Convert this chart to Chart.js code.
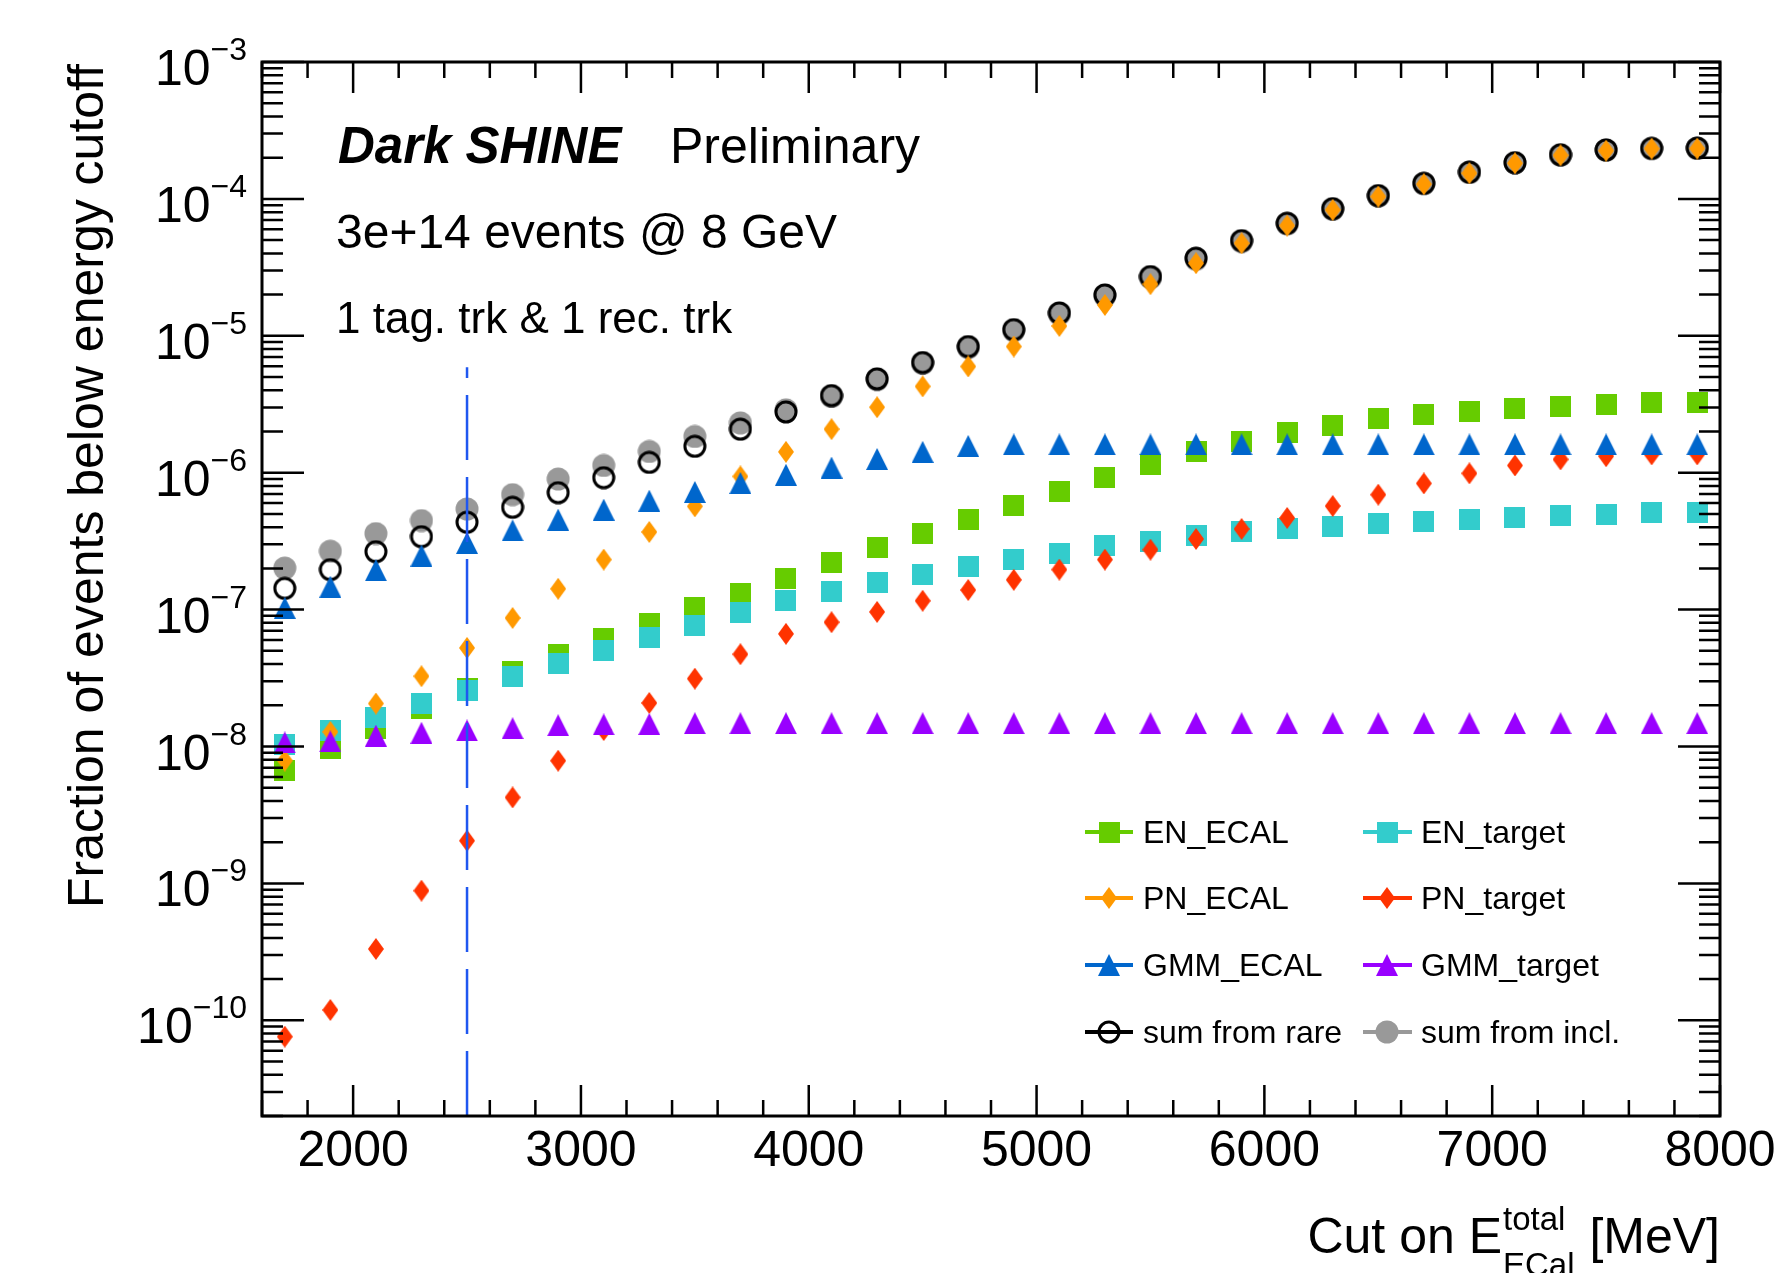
<!DOCTYPE html>
<html>
<head>
<meta charset="utf-8">
<script src="https://cdn.jsdelivr.net/npm/chart.js@4.4.0/dist/chart.umd.min.js"></script>
<style>
  html, body { margin: 0; padding: 0; background: #ffffff; }
  #wrap { width: 1777px; height: 1273px; }
</style>
</head>
<body>
<div id="wrap"><canvas id="c" width="1777" height="1273"></canvas></div>
<script>
// ---------------- DATA ----------------
const cutEnergies = [1700,1900,2100,2300,2500,2700,2900,3100,3300,3500,3700,3900,4100,4300,4500,4700,
                     4900,5100,5300,5500,5700,5900,6100,6300,6500,6700,6900,7100,7300,7500,7700,7900];

const enEcal = [6.7e-9,9.6e-9,1.36e-8,1.91e-8,2.64e-8,3.51e-8,4.67e-8,6.1e-8,7.94e-8,1.03e-7,1.32e-7,1.70e-7,2.19e-7,2.82e-7,3.57e-7,4.56e-7,
                5.77e-7,7.35e-7,9.29e-7,1.14e-6,1.42e-6,1.70e-6,1.98e-6,2.23e-6,2.47e-6,2.64e-6,2.82e-6,2.96e-6,3.07e-6,3.17e-6,3.23e-6,3.23e-6];

const enTarget = [1.03e-8,1.32e-8,1.64e-8,2.05e-8,2.56e-8,3.23e-8,4.04e-8,4.99e-8,6.21e-8,7.6e-8,9.45e-8,1.16e-7,1.35e-7,1.57e-7,1.79e-7,2.05e-7,
                  2.34e-7,2.59e-7,2.92e-7,3.17e-7,3.45e-7,3.69e-7,3.88e-7,4.08e-7,4.22e-7,4.37e-7,4.52e-7,4.67e-7,4.83e-7,4.91e-7,5.08e-7,5.08e-7];

const pnEcal = [7.9e-9,1.28e-8,2.06e-8,3.26e-8,5.25e-8,8.69e-8,1.42e-7,2.32e-7,3.69e-7,5.68e-7,9.4e-7,1.42e-6,2.08e-6,3.01e-6,4.27e-6,5.97e-6,
                8.35e-6,1.18e-5,1.68e-5,2.38e-5,3.39e-5,4.74e-5,6.38e-5,8.31e-5,1.04e-4,1.28e-4,1.54e-4,1.82e-4,2.08e-4,2.25e-4,2.33e-4,2.33e-4];

const pnTarget = [7.6e-11,1.19e-10,3.32e-10,8.85e-10,2.05e-9,4.25e-9,7.87e-9,1.32e-8,2.08e-8,3.13e-8,4.72e-8,6.65e-8,8.09e-8,9.62e-8,1.16e-7,1.39e-7,
                  1.65e-7,1.96e-7,2.32e-7,2.74e-7,3.28e-7,3.88e-7,4.67e-7,5.71e-7,6.91e-7,8.35e-7,9.89e-7,1.13e-6,1.25e-6,1.32e-6,1.36e-6,1.36e-6];

const gmmEcal = [1.03e-7,1.47e-7,1.94e-7,2.48e-7,3.07e-7,3.79e-7,4.54e-7,5.37e-7,6.25e-7,7.23e-7,8.41e-7,9.66e-7,1.09e-6,1.26e-6,1.42e-6,1.57e-6,
                 1.61e-6,1.61e-6,1.61e-6,1.61e-6,1.61e-6,1.61e-6,1.61e-6,1.61e-6,1.61e-6,1.61e-6,1.61e-6,1.61e-6,1.61e-6,1.61e-6,1.61e-6,1.61e-6];

const gmmTarget = [1.07e-8,1.09e-8,1.2e-8,1.26e-8,1.31e-8,1.36e-8,1.43e-8,1.45e-8,1.46e-8,1.48e-8,1.48e-8,1.48e-8,1.48e-8,1.48e-8,1.48e-8,1.48e-8,
                   1.48e-8,1.48e-8,1.48e-8,1.48e-8,1.48e-8,1.48e-8,1.48e-8,1.48e-8,1.48e-8,1.48e-8,1.48e-8,1.48e-8,1.48e-8,1.48e-8,1.48e-8,1.48e-8];

const sumRare = [1.43e-7,1.96e-7,2.65e-7,3.41e-7,4.35e-7,5.59e-7,7.15e-7,9.2e-7,1.19e-6,1.56e-6,2.08e-6,2.78e-6,3.66e-6,4.85e-6,6.38e-6,8.35e-6,
                 1.11e-5,1.47e-5,1.99e-5,2.71e-5,3.69e-5,4.96e-5,6.64e-5,8.49e-5,1.057e-4,1.30e-4,1.57e-4,1.84e-4,2.10e-4,2.28e-4,2.34e-4,2.35e-4];

const sumIncl = [2.01e-7,2.67e-7,3.59e-7,4.47e-7,5.43e-7,6.91e-7,8.99e-7,1.13e-6,1.43e-6,1.84e-6,2.31e-6,2.88e-6,3.61e-6,4.78e-6,6.3e-6,8.2e-6,
                 1.09e-5,1.44e-5,1.95e-5,2.66e-5,3.62e-5,4.88e-5,6.55e-5,8.4e-5,1.05e-4,1.29e-4,1.56e-4,1.83e-4,2.09e-4,2.27e-4,2.33e-4,2.34e-4];

const seriesLabels = ['EN_ECAL','EN_target','PN_ECAL','PN_target','GMM_ECAL','GMM_target','sum from rare','sum from incl.'];

const xTickLabels = ['2000','3000','4000','5000','6000','7000','8000'];
const yDecadeExponents = [-3,-4,-5,-6,-7,-8,-9,-10];

const cutLineValue = 2500;
const cutLineTop = 5.9e-6;

// ---------------- STYLE ----------------
const FONT = '"Liberation Sans", Arial, Helvetica, sans-serif';
const COL = {
  enEcal: '#66cc00', enTarget: '#33cccc', pnEcal: '#ff9900', pnTarget: '#ff3300',
  gmmEcal: '#0066cc', gmmTarget: '#9900ff', rare: '#000000', incl: '#999999'
};

function mk(w, h, draw) {
  const cv = document.createElement('canvas');
  cv.width = w; cv.height = h;
  draw(cv.getContext('2d'), w, h);
  return cv;
}
const square = c => mk(21, 21, (g, w, h) => { g.fillStyle = c; g.fillRect(0, 0, w, h); });
const diamond = c => mk(16, 22, (g, w, h) => {
  g.fillStyle = c; g.beginPath();
  g.moveTo(w / 2, 0); g.lineTo(w, h / 2); g.lineTo(w / 2, h); g.lineTo(0, h / 2);
  g.closePath(); g.fill();
});
const triangle = c => mk(22, 22, (g, w, h) => {
  g.fillStyle = c; g.beginPath();
  g.moveTo(w / 2, 0); g.lineTo(w, h); g.lineTo(0, h);
  g.closePath(); g.fill();
});
const openCircle = c => mk(24, 24, (g) => {
  g.strokeStyle = c; g.lineWidth = 3; g.beginPath(); g.arc(12, 12, 10, 0, 2 * Math.PI); g.stroke();
});
const fullCircle = c => mk(24, 24, (g) => {
  g.fillStyle = c; g.beginPath(); g.arc(12, 12, 11.5, 0, 2 * Math.PI); g.fill();
});

const toPts = arr => cutEnergies.map((x, i) => ({ x: x, y: arr[i] }));

function ds(label, arr, color, marker, order) {
  return { label, data: toPts(arr), pointStyle: marker, pointRadius: 10, borderColor: color,
           backgroundColor: color, showLine: false, order };
}

const datasets = [
  ds(seriesLabels[0], enEcal,    COL.enEcal,    square(COL.enEcal), 5),
  ds(seriesLabels[1], enTarget,  COL.enTarget,  square(COL.enTarget), 4),
  ds(seriesLabels[2], pnEcal,    COL.pnEcal,    diamond(COL.pnEcal), 3),
  ds(seriesLabels[3], pnTarget,  COL.pnTarget,  diamond(COL.pnTarget), 2),
  ds(seriesLabels[4], gmmEcal,   COL.gmmEcal,   triangle(COL.gmmEcal), 1),
  ds(seriesLabels[5], gmmTarget, COL.gmmTarget, triangle(COL.gmmTarget), 0),
  ds(seriesLabels[6], sumRare,   COL.rare,      openCircle(COL.rare), 6),
  ds(seriesLabels[7], sumIncl,   COL.incl,      fullCircle(COL.incl), 7)
];

// ---------------- ROOT-like decorations ----------------
const rootPlugin = {
  id: 'rootStyle',
  afterDatasetsDraw(chart) {
    const ctx = chart.ctx, a = chart.chartArea, x = chart.scales.x, y = chart.scales.y;

    // dashed cut line
    ctx.save();
    ctx.strokeStyle = '#1f57f0'; ctx.lineWidth = 2.5; ctx.setLineDash([65, 17]);
    const cx = x.getPixelForValue(cutLineValue);
    ctx.beginPath(); ctx.moveTo(cx, a.bottom); ctx.lineTo(cx, y.getPixelForValue(cutLineTop)); ctx.stroke();
    ctx.restore();

    // frame
    ctx.save();
    ctx.strokeStyle = '#000'; ctx.lineWidth = 3;
    ctx.strokeRect(a.left, a.top, a.right - a.left, a.bottom - a.top);

    // ticks
    ctx.lineWidth = 2.5;
    ctx.beginPath();
    for (let v = x.min; v <= x.max + 1e-6; v += 200) {
      const px = x.getPixelForValue(v);
      const len = (v % 1000 === 0) ? 31 : 16;
      ctx.moveTo(px, a.bottom); ctx.lineTo(px, a.bottom - len);
      ctx.moveTo(px, a.top); ctx.lineTo(px, a.top + len);
    }
    for (let e = -11; e <= -3; e++) {
      for (let k = 1; k <= 9; k++) {
        const v = k * Math.pow(10, e);
        if (v < y.min * 0.999 || v > y.max * 1.001) continue;
        const py = y.getPixelForValue(v);
        const len = (k === 1) ? 42 : 21;
        ctx.moveTo(a.left, py); ctx.lineTo(a.left + len, py);
        ctx.moveTo(a.right, py); ctx.lineTo(a.right - len, py);
      }
    }
    ctx.stroke();

    // x tick labels
    ctx.fillStyle = '#000';
    ctx.font = '50px ' + FONT;
    ctx.textAlign = 'center'; ctx.textBaseline = 'alphabetic';
    xTickLabels.forEach(t => {
      ctx.fillText(t, x.getPixelForValue(Number(t)), a.bottom + 50);
    });

    // y tick labels 10^{n}
    yDecadeExponents.forEach(e => {
      const py = y.getPixelForValue(Math.pow(10, e));
      const expStr = '\u2212' + Math.abs(e);
      ctx.font = '32px ' + FONT;
      const w2 = ctx.measureText(expStr).width;
      ctx.textAlign = 'left';
      ctx.fillText(expStr, 247 - w2, py - 2);
      ctx.font = '50px ' + FONT;
      ctx.textAlign = 'right';
      ctx.fillText('10', 247 - w2, py + 23);
    });

    // y title
    ctx.save();
    ctx.translate(103, 64);
    ctx.rotate(-Math.PI / 2);
    ctx.font = '50px ' + FONT;
    ctx.textAlign = 'right';
    ctx.fillText('Fraction of events below energy cutoff', 0, 0);
    ctx.restore();

    // x title: Cut on E^{total}_{ECal} [MeV]
    ctx.textAlign = 'left';
    ctx.font = '50px ' + FONT;
    const p1 = 'Cut on E', p3 = ' [MeV]';
    const w1 = ctx.measureText(p1).width, w3 = ctx.measureText(p3).width;
    ctx.font = '33px ' + FONT;
    const wSup = ctx.measureText('total').width, wSub = ctx.measureText('ECal').width;
    const wS = Math.max(wSup, wSub) + 2;
    const x0 = a.right - (w1 + wS + w3);
    const base = 1253;
    ctx.font = '50px ' + FONT;
    ctx.fillText(p1, x0, base);
    ctx.fillText(p3, x0 + w1 + wS, base);
    ctx.font = '33px ' + FONT;
    ctx.fillText('total', x0 + w1 + 1, base - 23);
    ctx.fillText('ECal', x0 + w1 + 1, base + 23);

    // top-left texts
    ctx.font = 'italic bold 51px ' + FONT;
    ctx.fillText('Dark SHINE', 338, 163);
    ctx.font = '50px ' + FONT;
    ctx.fillText('Preliminary', 670, 163);
    ctx.font = '48px ' + FONT;
    ctx.fillText('3e+14 events @ 8 GeV', 336, 248);
    ctx.font = '44px ' + FONT;
    ctx.fillText('1 tag. trk & 1 rec. trk', 336, 333);

    // legend (2 columns x 4 rows)
    const rows = [832, 898, 965, 1032];
    const cols = [{ l0: 1085, l1: 1133, m: 1109, t: 1143 }, { l0: 1363, l1: 1412, m: 1387, t: 1421 }];
    ctx.font = '32px ' + FONT;
    chart.data.datasets.forEach((d, i) => {
      const r = Math.floor(i / 2), c = cols[i % 2], ry = rows[r];
      ctx.strokeStyle = d.borderColor; ctx.lineWidth = 4;
      ctx.beginPath(); ctx.moveTo(c.l0, ry); ctx.lineTo(c.l1, ry); ctx.stroke();
      const img = d.pointStyle;
      ctx.drawImage(img, c.m - img.width / 2, ry - img.height / 2);
      ctx.fillStyle = '#000';
      ctx.fillText(d.label, c.t, ry + 11);
    });
    ctx.restore();
  }
};

new Chart(document.getElementById('c'), {
  type: 'scatter',
  data: { datasets },
  options: {
    responsive: false,
    animation: false,
    devicePixelRatio: 1,
    events: [],
    layout: { padding: { left: 0, right: 57, top: 62, bottom: 0 } },
    plugins: { legend: { display: false }, tooltip: { enabled: false }, title: { display: false } },
    scales: {
      x: {
        type: 'linear', min: 1600, max: 8000,
        ticks: { display: false }, grid: { display: false }, border: { display: false },
        afterFit(s) { s.height = 157; }
      },
      y: {
        type: 'logarithmic', min: 2e-11, max: 1e-3,
        ticks: { display: false }, grid: { display: false }, border: { display: false },
        afterFit(s) { s.width = 262; }
      }
    }
  },
  plugins: [rootPlugin]
});
</script>
</body>
</html>
